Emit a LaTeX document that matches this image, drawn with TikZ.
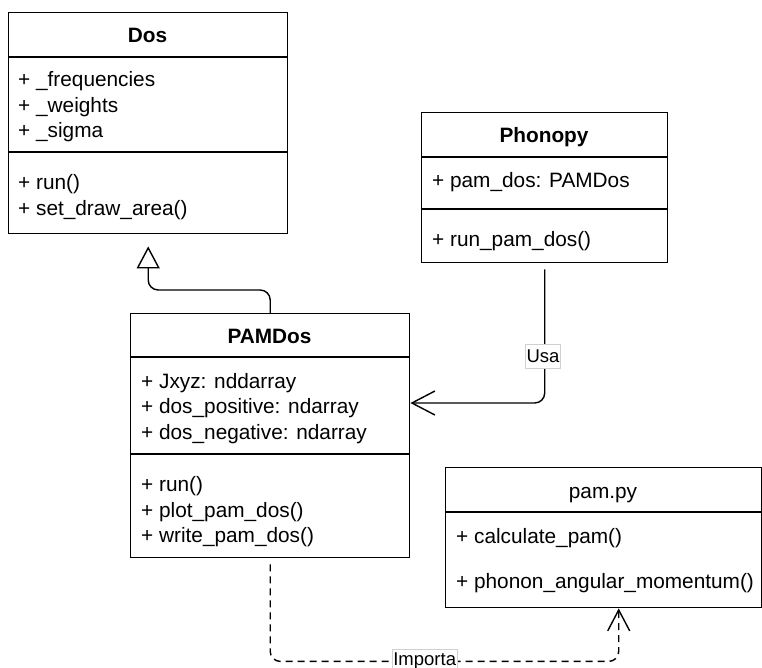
\documentclass[tikz,border=0pt]{standalone}
\usepackage{fontspec}
\setmainfont{Liberation Sans}
\usetikzlibrary{arrows.meta}
\definecolor{labelframe}{HTML}{D0D0D0}
\begin{document}
\begin{tikzpicture}[x=1pt,y=-1pt,
  classbox/.style={draw, line width=1.4pt, anchor=north west, inner sep=0pt},
  rule/.style={line width=1.4pt},
  member/.style={anchor=base west, inner sep=0pt, font=\fontsize{20.8}{24}\selectfont},
  classtitle/.style={anchor=base, inner sep=0pt, font=\bfseries\fontsize{20.8}{24}\selectfont},
  plaintitle/.style={anchor=base, inner sep=0pt, font=\fontsize{20.8}{24}\selectfont},
  edgelabel/.style={draw=labelframe, line width=0.8pt, fill=white, inner xsep=1pt, inner ysep=0pt,
    minimum height=24pt, font=\fontsize{18.5}{22}\selectfont},
  link/.style={line width=1.4pt, rounded corners=10pt},
  dashedlink/.style={link, dash pattern=on 7pt off 5pt},
]
\useasboundingbox (0,0) rectangle (762,668);

% ---- class Dos ----
\node[classbox, minimum width=279pt, minimum height=221pt] (dos) at (8,12) {};
\draw[rule] ([yshift=-45pt]dos.north west) -- ([yshift=-45pt]dos.north east);
\draw[rule] ([yshift=-140pt]dos.north west) -- ([yshift=-140pt]dos.north east);
\node[classtitle] (dosT) at (147.5,43) {Dos};
\node[member] (dosA1) at (18,87) {+ \_frequencies};
\node[member] (dosA2) at (18,112.5) {+ \_weights};
\node[member] (dosA3) at (18,138) {+ \_sigma};
\node[member] (dosM1) at (18,190) {+ run()};
\node[member] (dosM2) at (18,215.5) {+ set\_draw\_area()};

% ---- class PAMDos ----
\node[classbox, minimum width=279pt, minimum height=244pt] (pamdos) at (130,313) {};
\draw[rule] ([yshift=-44pt]pamdos.north west) -- ([yshift=-44pt]pamdos.north east);
\draw[rule] ([yshift=-141pt]pamdos.north west) -- ([yshift=-141pt]pamdos.north east);
\node[classtitle] (pamdosT) at (269.5,343) {PAMDos};
\node[member] (pamdosA1) at (141,388) {+ Jxyz: nddarray};
\node[member] (pamdosA2) at (141,413.5) {+ dos\_positive: ndarray};
\node[member] (pamdosA3) at (141,439) {+ dos\_negative: ndarray};
\node[member] (pamdosM1) at (141,491.5) {+ run()};
\node[member] (pamdosM2) at (141,517) {+ plot\_pam\_dos()};
\node[member] (pamdosM3) at (141,542.5) {+ write\_pam\_dos()};

% ---- class Phonopy ----
\node[classbox, minimum width=246pt, minimum height=150pt] (phonopy) at (421,112) {};
\draw[rule] ([yshift=-45pt]phonopy.north west) -- ([yshift=-45pt]phonopy.north east);
\draw[rule] ([yshift=-97pt]phonopy.north west) -- ([yshift=-97pt]phonopy.north east);
\node[classtitle] (phonopyT) at (544,142.5) {Phonopy};
\node[member] (phonopyA1) at (432,187.5) {+ pam\_dos: PAMDos};
\node[member] (phonopyM1) at (432,246.5) {+ run\_pam\_dos()};

% ---- module pam.py ----
\node[classbox, minimum width=316pt, minimum height=140pt] (pampy) at (445,467) {};
\draw[rule] ([yshift=-45pt]pampy.north west) -- ([yshift=-45pt]pampy.north east);
\node[plaintitle] (pampyT) at (603,498) {pam.py};
\node[member] (pampyM1) at (456,543) {+ calculate\_pam()};
\node[member] (pampyM2) at (456,588) {+ phonon\_angular\_momentum()};

% ---- generalisation PAMDos -> Dos ----
\draw[link, shorten >=12pt, -{Triangle[open, length=22pt, width=23pt]}]
  (pamdos.north) -- ++(0,-23) -| (dos.south);

% ---- association Phonopy -> PAMDos ----
\draw[link, shorten <=6pt, -{Straight Barb[length=23pt, width=24pt]}]
  (phonopy.south) |- (pamdos.east |- 0,403);
\node[edgelabel] (usa) at (543,356) {Usa};

% ---- dependency PAMDos -> pam.py ----
\draw[dashedlink, shorten <=6pt, -{Straight Barb[length=21pt, width=22pt]}]
  (pamdos.south) -- ++(0,103) -| ([xshift=15pt]pampy.south);
\node[edgelabel] (importa) at (424.7,661) {Importa};
\end{tikzpicture}
\end{document}
